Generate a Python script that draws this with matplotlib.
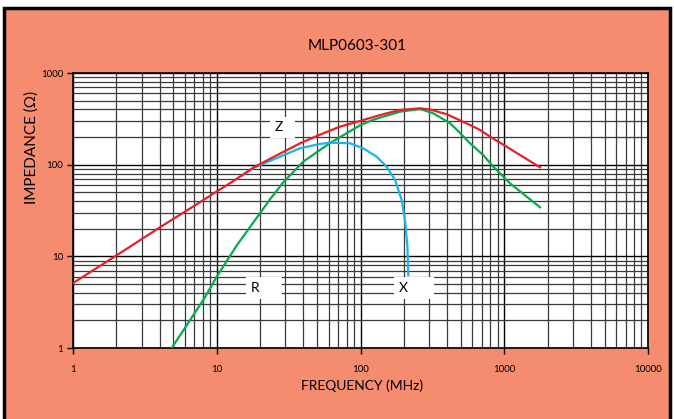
import matplotlib
matplotlib.use("Agg")
import matplotlib.pyplot as plt
from matplotlib.patches import Rectangle
from matplotlib.ticker import LogLocator, NullFormatter

# impedance curves (MHz, ohm)
z_freq = [1, 2, 4, 7, 10, 13, 18, 25, 38, 52, 72, 100, 137, 188, 259, 304, 398,
          578, 678, 839, 934, 1222, 1774]
z_ohm = [5.1, 10.2, 20.6, 35.7, 51, 66, 93, 122, 171, 212, 260, 301, 348, 395, 412, 400, 355,
         271, 239, 192, 174, 134, 93.6]

r_freq = [4.86, 8.06, 10, 13.8, 20, 23.5, 29, 40, 61, 99, 120, 137, 188, 259, 321, 420, 492,
          578, 715, 839, 985, 1096, 1432, 1774]
r_ohm = [1.0, 3.34, 6.0, 13.2, 29.5, 42, 64, 108, 171, 268, 305, 326, 378, 405, 363, 283, 222,
         171, 127, 95, 74, 62.6, 44.8, 34.3]

x_freq = [15, 18, 27.5, 38, 52, 61.3, 84.4, 104.6, 129.6, 152, 174, 193.5, 204, 212, 215]
x_ohm = [76, 92, 122, 151, 168, 174, 171, 150.6, 122, 95, 68, 41, 24.9, 12.7, 6.25]

x_ticks = [1, 10, 100, 1000, 10000]
x_labels = ["1", "10", "100", "1000", "10000"]
y_ticks = [1, 10, 100, 1000]
y_labels = ["1", "10", "100", "1000"]

plt.rcParams["font.family"] = ["Lato", "DejaVu Sans"]

salmon = "#F58C70"
fig = plt.figure(figsize=(6.74, 4.19), dpi=100)
fig.patch.set_facecolor("white")
fig.patches.append(Rectangle((4 / 674, -0.01), 666 / 674, 1 - 8 / 419 + 0.01,
                             transform=fig.transFigure, facecolor=salmon,
                             edgecolor="black", linewidth=2.5, zorder=-5))

ax = fig.add_axes([73 / 674, 1 - 348 / 419, 575 / 674, 275 / 419])
ax.set_zorder(2)
ax.set_facecolor("white")
ax.set_xscale("log")
ax.set_yscale("log")
ax.set_xlim(1, 10000)
ax.set_ylim(1, 1000)

ax.xaxis.set_minor_locator(LogLocator(base=10, subs=range(2, 10)))
ax.yaxis.set_minor_locator(LogLocator(base=10, subs=range(2, 10)))
ax.xaxis.set_minor_formatter(NullFormatter())
ax.yaxis.set_minor_formatter(NullFormatter())
ax.grid(which="major", color="black", linewidth=1.0)
ax.grid(which="minor", color="#3a3a3a", linewidth=0.9)
ax.set_axisbelow(True)

ax.set_xticks(x_ticks, x_labels)
ax.set_yticks(y_ticks, y_labels)
ax.tick_params(which="major", direction="out", length=4, width=1, labelsize=7,
               colors="black")
ax.tick_params(axis="x", pad=8)
ax.tick_params(axis="y", pad=3)
ax.tick_params(which="minor", length=0)
for s in ax.spines.values():
    s.set_linewidth(1.2)
    s.set_color("black")

ax.plot(z_freq, z_ohm, color="#E8202A", lw=1.6, zorder=4)
ax.plot(r_freq, r_ohm, color="#0AA84F", lw=1.6, zorder=3)
ax.plot(x_freq, x_ohm, color="#1AB4EA", lw=1.6, zorder=3)

# curve labels sit in small white boxes that cut the grid
box = dict(facecolor="white", edgecolor="none", pad=3.5)
ax.text(25.5, 255, "Z  ", fontsize=10, ha="left", va="center", bbox=box, zorder=5)
ax.text(17.2, 4.5, "R     ", fontsize=10, ha="left", va="center", bbox=box, zorder=5)
ax.text(186, 4.5, "X      ", fontsize=10, ha="left", va="center", bbox=box, zorder=5)

fig.text(357 / 674, 1 - 46 / 419, "MLP0603-301", fontsize=11, ha="center", va="center")
fig.text(362 / 674, 1 - 386 / 419, "FREQUENCY (MHz)", fontsize=10, ha="center", va="center")
fig.text(32 / 674, 1 - 147 / 419, "IMPEDANCE (Ω)", fontsize=11, ha="center", va="center",
         rotation=90)

fig.savefig("out.png", dpi=100, facecolor=fig.get_facecolor())
